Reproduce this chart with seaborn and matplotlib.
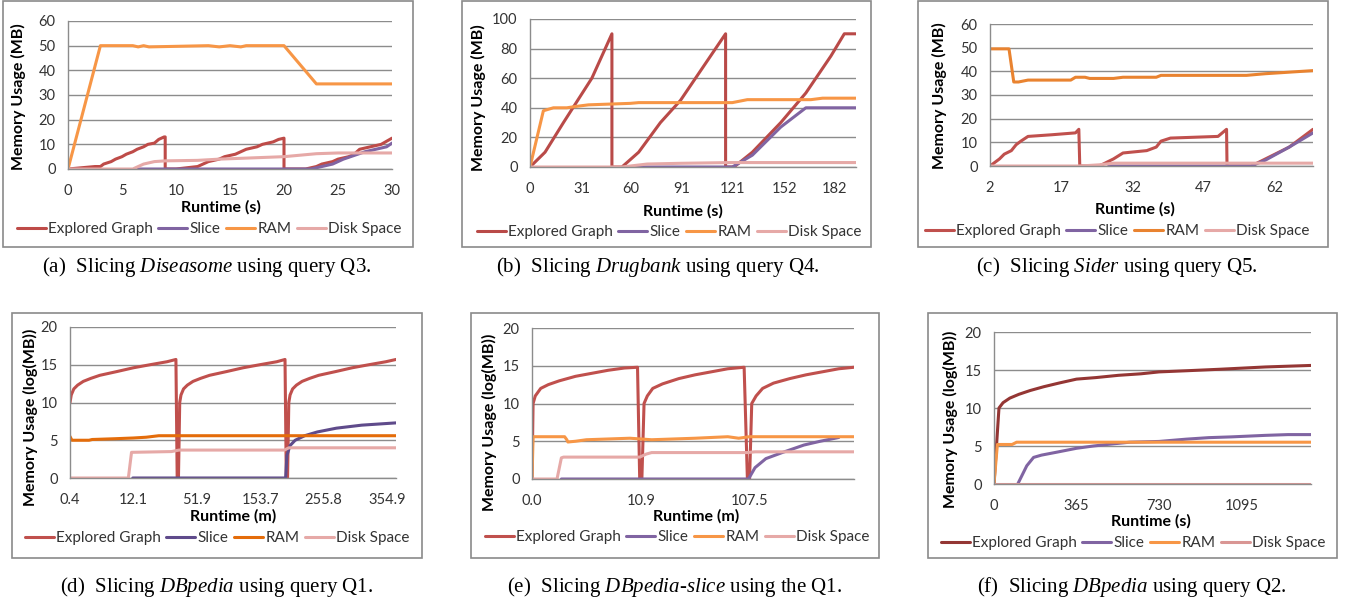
import matplotlib
matplotlib.use("Agg")
import matplotlib.pyplot as plt
from matplotlib.patches import Rectangle
import pandas as pd
import seaborn as sns

W, H = 1348, 604

SERIES = ["Explored Graph", "Slice", "RAM", "Disk Space"]

# (a) Diseasome, Q3
A_EXPLORED_X = [0, 2.5, 3, 3.3, 4, 4.4, 5, 5.4, 6, 6.4, 7, 7.4, 8, 8.4, 8.9, 9, 9, 10, 11, 12, 12.5, 13, 14, 14.5, 15.5, 16, 16.5, 17, 17.5, 18, 18.5, 19, 19.5, 20, 20, 22, 23, 23.5, 24.5, 25, 26, 26.5, 27, 28, 29, 30]
A_EXPLORED_Y = [0, 1, 1, 2, 3, 4, 5, 6, 7, 8, 9, 10, 10.5, 12, 13, 13, 0, 0, 0.5, 1, 2, 3, 4, 5, 6, 7, 8, 8.5, 9, 10, 10.5, 11, 12, 12.5, 0, 0, 1, 2, 3, 4, 5, 6, 8, 9, 10, 12.5]
A_SLICE_X = [6.5, 22.5, 23.5, 24.5, 25.5, 26.5, 27.5, 28.5, 29.5, 30]
A_SLICE_Y = [0, 0, 1, 2, 4, 5.5, 7, 8, 9, 10.5]
A_RAM_X = [0, 3, 6, 6.5, 7, 7.5, 13, 14, 15, 16, 16.5, 17, 20, 23, 30]
A_RAM_Y = [0, 50, 50, 49.5, 50, 49.5, 50, 49.5, 50, 49.5, 50, 50, 50, 34.5, 34.5]
A_DISK_X = [0, 6, 6.5, 7, 8, 9, 12, 14, 17, 20, 23, 25, 30]
A_DISK_Y = [0, 0, 1, 2, 3, 3.3, 3.5, 4, 4.5, 5, 6.2, 6.5, 6.5]

# (b) Drugbank, Q4
B_EXPLORED_X = [0, 9, 20, 37, 49, 49, 55, 65, 78, 90, 105, 117, 117, 122, 133, 150, 165, 180, 188, 195]
B_EXPLORED_Y = [0, 10, 30, 60, 90, 0, 0, 10, 30, 45, 70, 90, 0, 0, 10, 30, 50, 75, 90, 90]
B_SLICE_X = [60, 121, 133, 150, 165, 195]
B_SLICE_Y = [0, 0, 8, 27, 40, 40]
B_RAM_X = [0, 8, 14, 22, 28, 35, 60, 65, 121, 130, 168, 175, 195]
B_RAM_Y = [0, 38, 40, 40, 41, 42, 43, 43.5, 43.5, 45.5, 45.5, 46.5, 46.5]
B_DISK_X = [0, 55, 70, 90, 120, 195]
B_DISK_Y = [0, 0, 2, 2.5, 3, 3]

# (c) Sider, Q5
C_EXPLORED_X = [2, 4, 5, 6.5, 7.5, 8.5, 10, 15, 20, 20.7, 20.9, 25, 28, 30, 35, 37, 38, 40, 50, 51.8, 51.9, 57, 60, 65, 70]
C_EXPLORED_Y = [0, 3, 5, 6.5, 9, 10.5, 12.5, 13.2, 14, 15.5, 0, 0, 3, 5.5, 6.5, 8, 10.5, 11.8, 12.5, 15.5, 0, 0, 3, 8, 15.5]
C_SLICE_X = [27, 57, 60, 65, 70]
C_SLICE_Y = [0, 0, 2.5, 8, 14]
C_RAM_X = [2, 6, 7, 8, 10, 19, 20, 22, 23, 28, 30, 37, 38, 56, 60, 70]
C_RAM_Y = [49.5, 49.5, 35.5, 35.5, 36.3, 36.3, 37.5, 37.5, 37, 37, 37.5, 37.5, 38.3, 38.3, 39, 40.3]
C_DISK_X = [2, 21, 25, 28, 70]
C_DISK_Y = [0, 0, 0.5, 1.2, 1.2]

# (d) DBpedia, Q1 (x is the category position of the Excel axis)
D_TICKS = ["0.4", "12.1", "51.9", "153.7", "255.8", "354.9"]
D_EXPLORED_X = [0, 0.02, 0.06, 0.12, 0.21, 0.33, 0.47, 0.74, 1.0, 1.26, 1.53, 1.67, 1.69, 1.71, 1.73, 1.75, 1.79, 1.85, 1.94, 2.06, 2.2, 2.47, 2.73, 2.99, 3.26, 3.39, 3.41, 3.43, 3.45, 3.47, 3.51, 3.57, 3.66, 3.78, 3.92, 4.19, 4.45, 4.71, 4.98, 5.14]
D_EXPLORED_Y = [10, 11, 11.8, 12.3, 12.8, 13.2, 13.6, 14.1, 14.6, 15.0, 15.4, 15.7, 0, 0, 10, 11, 11.8, 12.3, 12.8, 13.2, 13.6, 14.1, 14.6, 15.0, 15.4, 15.7, 0, 0, 10, 11, 11.8, 12.3, 12.8, 13.2, 13.6, 14.1, 14.6, 15.0, 15.4, 15.7]
D_SLICE_X = [0.99, 3.40, 3.42, 3.47, 3.55, 3.7, 3.9, 4.2, 4.6, 5.14]
D_SLICE_Y = [0, 0, 3, 4.3, 5, 5.6, 6.1, 6.6, 7.0, 7.3]
D_RAM_X = [0, 0.03, 0.3, 0.35, 0.7, 1.0, 1.2, 1.3, 1.4, 5.14]
D_RAM_Y = [5.5, 5.0, 5.0, 5.1, 5.2, 5.3, 5.4, 5.5, 5.6, 5.6]
D_DISK_X = [0, 0.92, 0.97, 1.6, 1.72, 3.38, 3.45, 5.14]
D_DISK_Y = [0, 0, 3.4, 3.5, 3.7, 3.7, 4.0, 4.0]

# (e) DBpedia-slice, Q1
E_TICKS = ["0.0", "10.9", "107.5"]
E_EXPLORED_X = [0, 0.01, 0.03, 0.08, 0.15, 0.25, 0.4, 0.55, 0.7, 0.85, 0.97, 0.99, 1.01, 1.03, 1.06, 1.11, 1.2, 1.35, 1.5, 1.65, 1.8, 1.95, 1.98, 2.0, 2.02, 2.06, 2.12, 2.22, 2.37, 2.52, 2.67, 2.82, 2.96]
E_EXPLORED_Y = [0, 10, 11, 12, 12.5, 13, 13.6, 14, 14.4, 14.7, 14.8, 0, 0, 10, 11, 12, 12.6, 13.3, 13.8, 14.2, 14.6, 14.8, 0, 0, 10, 11, 12, 12.7, 13.3, 13.8, 14.2, 14.6, 14.8]
E_SLICE_X = [0.27, 1.99, 2.05, 2.15, 2.3, 2.5, 2.65, 2.82]
E_SLICE_Y = [0, 0, 1.5, 2.7, 3.5, 4.5, 5.0, 5.5]
E_RAM_X = [0, 0.01, 0.3, 0.32, 0.33, 0.4, 0.5, 0.7, 0.9, 1.0, 1.1, 1.3, 1.5, 1.8, 1.9, 2.0, 2.96]
E_RAM_Y = [0, 5.6, 5.6, 5.2, 4.9, 5.0, 5.2, 5.3, 5.4, 5.3, 5.2, 5.3, 5.4, 5.6, 5.4, 5.6, 5.6]
E_DISK_X = [0, 0.23, 0.27, 0.29, 0.99, 1.05, 1.1, 1.98, 2.05, 2.96]
E_DISK_Y = [0, 0, 2.8, 2.9, 2.9, 3.3, 3.5, 3.5, 3.6, 3.6]

# (f) DBpedia, Q2
F_EXPLORED_X = [0, 22, 40, 70, 110, 160, 220, 290, 365, 450, 550, 650, 730, 850, 1000, 1100, 1200, 1300, 1402]
F_EXPLORED_Y = [0, 10, 10.7, 11.3, 11.8, 12.3, 12.8, 13.3, 13.8, 14.0, 14.3, 14.5, 14.75, 14.9, 15.1, 15.25, 15.4, 15.5, 15.6]
F_SLICE_X = [105, 125, 145, 175, 210, 280, 365, 440, 500, 600, 730, 850, 950, 1050, 1200, 1300, 1402]
F_SLICE_Y = [0, 1.2, 2.4, 3.5, 3.8, 4.2, 4.7, 5.0, 5.2, 5.5, 5.6, 5.9, 6.1, 6.2, 6.4, 6.5, 6.5]
F_RAM_X = [0, 15, 80, 100, 1402]
F_RAM_Y = [0, 5.2, 5.2, 5.5, 5.5]
F_DISK_X = [0, 1402]
F_DISK_Y = [0, 0]

EXCEL_RED = "#C0504D"
EXCEL_PURPLE = "#8064A2"
EXCEL_ORANGE = "#F79646"
EXCEL_PINK = "#E6A9A7"
GRID = "#8C8C8C"
TEXT = "#333333"


def frac(x, y):
    return x / W, 1 - y / H


def draw_panel(fig, spec):
    l, t, r, b = spec["axes_px"]
    ax = fig.add_axes([l / W, 1 - b / H, (r - l) / W, (b - t) / H])
    series = [
        (spec["explored"], spec["colors"][0]),
        (spec["slice"], spec["colors"][1]),
        (spec["ram"], spec["colors"][2]),
        (spec["disk"], spec["colors"][3]),
    ]
    for name, ((xs, ys), color) in zip(SERIES, series):
        frame = pd.DataFrame({"x": xs, "y": ys})
        sns.lineplot(data=frame, x="x", y="y", sort=False, estimator=None,
                     color=color, lw=2.2, ax=ax, label=name)

    ax.set_xlim(*spec["xlim"])
    ax.set_ylim(*spec["ylim"])
    ax.set_yticks(spec["yticks"])
    ax.set_xticks(spec["xticks"])
    if "xticklabels" in spec:
        ax.set_xticklabels(spec["xticklabels"])
    ax.set_xlabel("")
    ax.set_ylabel("")
    ax.grid(axis="y", color=GRID, lw=1)
    ax.grid(axis="x", visible=False)
    ax.set_axisbelow(True)
    for side in ["top", "right"]:
        ax.spines[side].set_visible(False)
    for side in ["left", "bottom"]:
        ax.spines[side].set_color(GRID)
        ax.spines[side].set_linewidth(1)
    ax.tick_params(axis="both", direction="out", length=5, width=1, color=GRID,
                   labelsize=10.5, labelcolor=TEXT, pad=4)
    ax.tick_params(axis="x", pad=6)

    handles, labels = ax.get_legend_handles_labels()
    ax.get_legend().remove()
    lx, ly = frac(*spec["legend_px"])
    fig.legend(handles, labels, loc="center", bbox_to_anchor=(lx, ly), ncol=4,
               frameon=False, handlelength=1.9, handletextpad=0.15,
               columnspacing=0.35, fontsize=11, labelcolor=TEXT)

    bl, bt, br, bb = spec["box_px"]
    fig.add_artist(Rectangle((bl / W, 1 - bb / H), (br - bl) / W, (bb - bt) / H,
                             transform=fig.transFigure, fill=False,
                             ec="#8A8A8A", lw=1.2))

    xx, xy = frac(*spec["xlabel_px"])
    fig.text(xx, xy, spec["xlabel"], ha="center", va="center",
             fontsize=11.5, fontweight="bold", color="black")
    yx, yy = frac(*spec["ylabel_px"])
    fig.text(yx, yy, spec["ylabel"], ha="center", va="center", rotation=90,
             fontsize=11.5, fontweight="bold", color="black")

    cx, cy = frac(*spec["caption_px"])
    fig.text(cx, cy, spec["caption"], ha="center", va="center",
             fontsize=15, family="Liberation Serif", color="black")


sns.set_theme(style="white")
plt.rcParams["font.family"] = ["Lato", "DejaVu Sans"]
plt.rcParams["mathtext.fontset"] = "custom"
plt.rcParams["mathtext.rm"] = "Liberation Serif"
plt.rcParams["mathtext.it"] = "Liberation Serif:italic"

panels = [
    dict(explored=(A_EXPLORED_X, A_EXPLORED_Y), slice=(A_SLICE_X, A_SLICE_Y),
         ram=(A_RAM_X, A_RAM_Y), disk=(A_DISK_X, A_DISK_Y),
         colors=["#BE4B48", EXCEL_PURPLE, EXCEL_ORANGE, EXCEL_PINK],
         xlim=(0, 30), ylim=(0, 60), xticks=range(0, 31, 5), yticks=range(0, 61, 10),
         axes_px=(68, 21, 392, 169), box_px=(3, 1, 413, 247),
         legend_px=(209, 229), xlabel_px=(221, 207), ylabel_px=(18, 97),
         xlabel="Runtime (s)", ylabel="Memory Usage (MB)",
         caption_px=(207, 267), caption=r"(a)  Slicing $\mathit{Diseasome}$ using query Q3."),
    dict(explored=(B_EXPLORED_X, B_EXPLORED_Y), slice=(B_SLICE_X, B_SLICE_Y),
         ram=(B_RAM_X, B_RAM_Y), disk=(B_DISK_X, B_DISK_Y),
         colors=["#B94A48", EXCEL_PURPLE, EXCEL_ORANGE, EXCEL_PINK],
         xlim=(0, 195), ylim=(0, 100), xticks=[0, 31, 60, 91, 121, 152, 182],
         yticks=range(0, 101, 20),
         axes_px=(530, 19, 856, 167), box_px=(462, 1, 871, 247),
         legend_px=(669, 232), xlabel_px=(683, 211), ylabel_px=(478, 98),
         xlabel="Runtime (s)", ylabel="Memory Usage (MB)",
         caption_px=(658, 267), caption=r"(b)  Slicing $\mathit{Drugbank}$ using query Q4."),
    dict(explored=(C_EXPLORED_X, C_EXPLORED_Y), slice=(C_SLICE_X, C_SLICE_Y),
         ram=(C_RAM_X, C_RAM_Y), disk=(C_DISK_X, C_DISK_Y),
         colors=[EXCEL_RED, EXCEL_PURPLE, "#E98330", EXCEL_PINK],
         xlim=(2, 70), ylim=(0, 60), xticks=[2, 17, 32, 47, 62], yticks=range(0, 61, 10),
         axes_px=(990, 24, 1313, 166), box_px=(918, 1, 1328, 247),
         legend_px=(1117, 231), xlabel_px=(1135, 209), ylabel_px=(939, 96),
         xlabel="Runtime (s)", ylabel="Memory Usage (MB)",
         caption_px=(1117, 267), caption=r"(c)  Slicing $\mathit{Sider}$ using query Q5."),
    dict(explored=(D_EXPLORED_X, D_EXPLORED_Y), slice=(D_SLICE_X, D_SLICE_Y),
         ram=(D_RAM_X, D_RAM_Y), disk=(D_DISK_X, D_DISK_Y),
         colors=[EXCEL_RED, "#5F4B8B", "#E46C0A", EXCEL_PINK],
         xlim=(0, 5.14), ylim=(0, 20), xticks=range(6), xticklabels=D_TICKS,
         yticks=range(0, 21, 5),
         axes_px=(70, 327, 396, 478), box_px=(12, 313, 422, 558),
         legend_px=(217, 538), xlabel_px=(233, 516), ylabel_px=(30, 417),
         xlabel="Runtime (m)", ylabel="Memory Usage (log(MB))",
         caption_px=(217, 587), caption=r"(d)  Slicing $\mathit{DBpedia}$ using query Q1."),
    dict(explored=(E_EXPLORED_X, E_EXPLORED_Y), slice=(E_SLICE_X, E_SLICE_Y),
         ram=(E_RAM_X, E_RAM_Y), disk=(E_DISK_X, E_DISK_Y),
         colors=[EXCEL_RED, EXCEL_PURPLE, EXCEL_ORANGE, EXCEL_PINK],
         xlim=(0, 2.96), ylim=(0, 20), xticks=range(3), xticklabels=E_TICKS,
         yticks=range(0, 21, 5),
         axes_px=(532, 328, 854, 479), box_px=(471, 313, 879, 558),
         legend_px=(677, 537), xlabel_px=(696, 516), ylabel_px=(489, 422),
         xlabel="Runtime (m)", ylabel="Memory Usage (log(MB))",
         caption_px=(675, 587), caption=r"(e)  Slicing $\mathit{DBpedia}$-$\mathit{slice}$ using the Q1."),
    dict(explored=(F_EXPLORED_X, F_EXPLORED_Y), slice=(F_SLICE_X, F_SLICE_Y),
         ram=(F_RAM_X, F_RAM_Y), disk=(F_DISK_X, F_DISK_Y),
         colors=["#943634", EXCEL_PURPLE, EXCEL_ORANGE, "#D99694"],
         xlim=(0, 1402), ylim=(0, 20), xticks=[0, 365, 730, 1095], yticks=range(0, 21, 5),
         axes_px=(994, 332, 1311, 484), box_px=(928, 313, 1337, 558),
         legend_px=(1133, 543), xlabel_px=(1151, 521), ylabel_px=(950, 419),
         xlabel="Runtime (s)", ylabel="Memory Usage (log(MB))",
         caption_px=(1132, 587), caption=r"(f)  Slicing $\mathit{DBpedia}$ using query Q2."),
]

fig = plt.figure(figsize=(W / 100, H / 100), dpi=100)
for spec in panels:
    draw_panel(fig, spec)

fig.savefig("out.png", dpi=100)
